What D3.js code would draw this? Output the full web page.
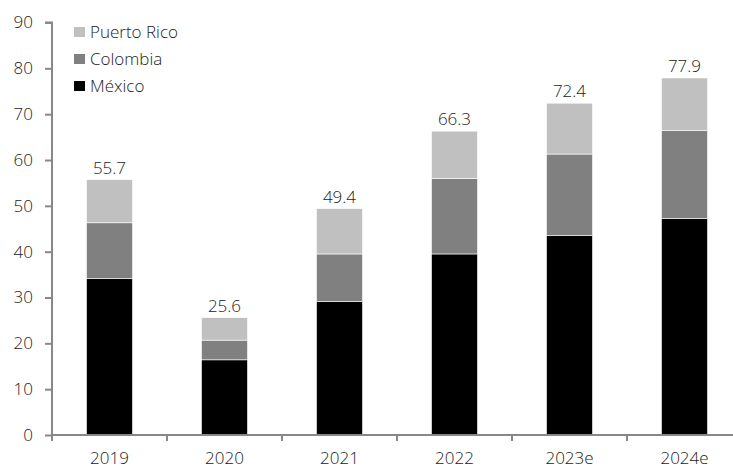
<!DOCTYPE html>
<html><head><meta charset="utf-8">
<script src="https://cdn.jsdelivr.net/npm/d3@7"></script>
<style>body{margin:0;background:#fff}text{font-family:"Open Sans",Lato,sans-serif;font-weight:300;fill:#222}</style>
</head><body>
<svg id="c" width="733" height="468"></svg>
<script>
const categories = ["2019","2020","2021","2022","2023e","2024e"];
const mexico     = [34.1, 16.4, 29.1, 39.5, 43.5, 47.2];
const colombia   = [12.2, 4.3, 10.4, 16.5, 17.8, 19.2];
const puertoRico = [9.4, 4.9, 9.9, 10.3, 11.1, 11.5];
const totals     = [55.7, 25.6, 49.4, 66.3, 72.4, 77.9];
const seriesNames = ["México","Colombia","Puerto Rico"];
const seriesColors = ["#000000","#808080","#c0c0c0"];
const yTicks = [0,10,20,30,40,50,60,70,80,90];

const svg = d3.select("#c");
const x0 = 52, y0 = 435;
const x = d3.scaleBand().domain(categories).range([x0, x0 + 115*6]).paddingInner(0.6).paddingOuter(0.3);
const y = d3.scaleLinear().domain([0, 90]).range([y0, 22.5]);

const data = categories.map((c,i)=>({cat:c, "México":mexico[i], "Colombia":colombia[i], "Puerto Rico":puertoRico[i]}));
const stack = d3.stack().keys(seriesNames)(data);

svg.append("g").selectAll("g").data(stack).join("g")
  .attr("fill",(d,i)=>seriesColors[i])
  .selectAll("rect").data(d=>d).join("rect")
  .attr("x",d=>x(d.data.cat)).attr("width",x.bandwidth())
  .attr("y",d=>y(d[1])).attr("height",d=>y(d[0])-y(d[1]))
  .attr("stroke","#fff").attr("stroke-width",0.6);

// value labels
svg.append("g").selectAll("text").data(categories).join("text")
  .attr("x",d=>x(d)+x.bandwidth()/2).attr("y",(d,i)=>y(totals[i])-6)
  .attr("text-anchor","middle").attr("font-size",17).text((d,i)=>totals[i].toFixed(1));

// y axis
const ya = svg.append("g").attr("transform",`translate(${x0},0)`)
  .call(d3.axisLeft(y).tickValues(yTicks).tickSize(7).tickPadding(12).tickFormat(d3.format("d")));
ya.select(".domain").attr("stroke","#888").attr("stroke-width",2).attr("d",`M-7,${y(90)}H0V${y0}`);
ya.selectAll(".tick line").attr("stroke","#888").attr("stroke-width",2);
ya.selectAll(".tick text").attr("font-size",17).attr("fill","#222").style("font-family","'Open Sans',Lato,sans-serif");

// x axis
const xs = d3.scaleLinear().domain([0,6]).range([x0, x0+690]);
const xa = svg.append("g").attr("transform",`translate(0,${y0})`);
xa.append("line").attr("x1",x0).attr("x2",733).attr("y1",0).attr("y2",0).attr("stroke","#888").attr("stroke-width",2);
xa.selectAll("line.t").data(d3.range(0,6)).join("line").attr("class","t")
  .attr("x1",d=>xs(d)).attr("x2",d=>xs(d)).attr("y1",0).attr("y2",6).attr("stroke","#888").attr("stroke-width",2);
xa.selectAll("text").data(categories).join("text")
  .attr("x",d=>x(d)+x.bandwidth()/2).attr("y",29).attr("text-anchor","middle").attr("font-size",17).text(d=>d);

// legend
const leg = svg.append("g");
const legItems = [["Puerto Rico","#c0c0c0"],["Colombia","#808080"],["México","#000000"]];
legItems.forEach((it,i)=>{
  const yy = 32 + i*27;
  leg.append("rect").attr("x",74).attr("y",yy-5).attr("width",11).attr("height",10).attr("fill",it[1]);
  leg.append("text").attr("x",90).attr("y",yy+6).attr("font-size",17).text(it[0]);
});
</script>
</body></html>
